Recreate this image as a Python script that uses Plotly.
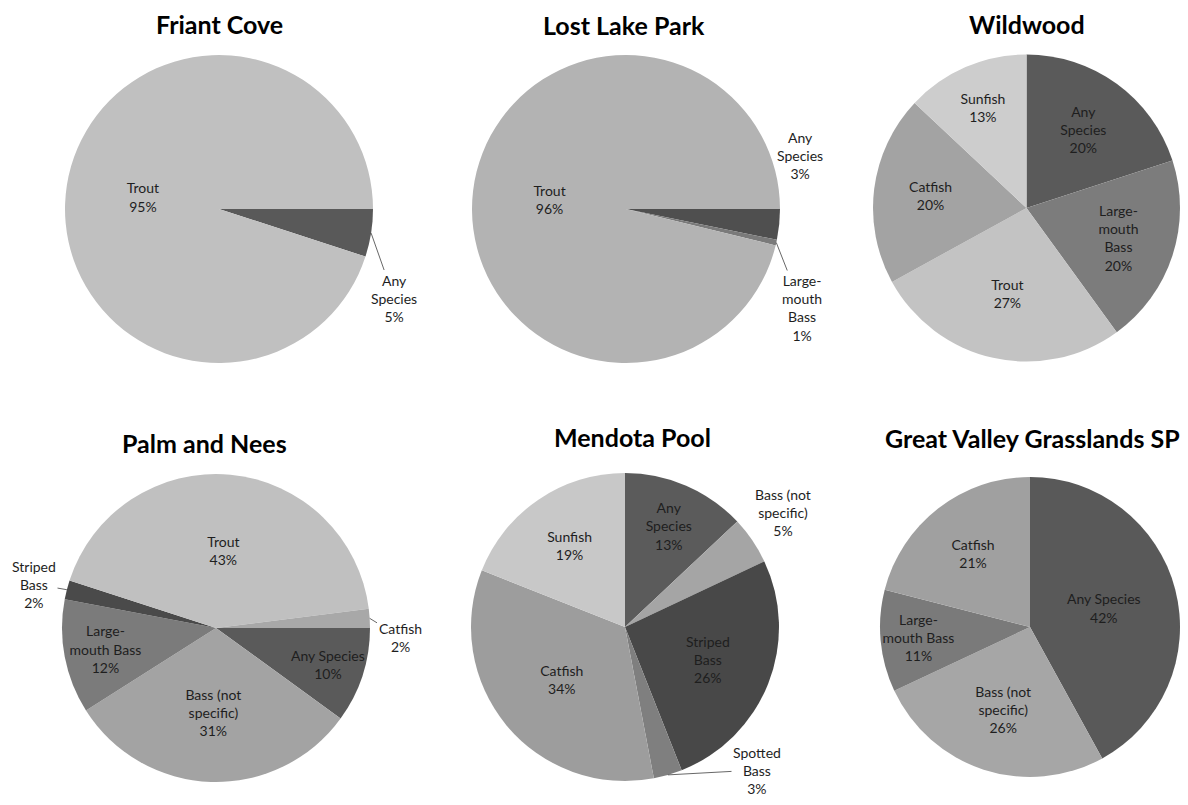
import math
import plotly.graph_objects as go

# ---------------- data ----------------
friant_labels = ["Any<br>Species", "Trout"]
friant_values = [5, 95]

lost_labels = ["Any<br>Species", "Large-<br>mouth<br>Bass", "Trout"]
lost_values = [3.2, 0.6, 96.2]

wild_labels = ["Any<br>Species", "Large-<br>mouth<br>Bass", "Trout", "Catfish", "Sunfish"]
wild_values = [20, 20, 27, 20, 13]

palm_labels = ["Any Species", "Bass (not<br>specific)", "Large-<br>mouth Bass", "Striped<br>Bass", "Trout", "Catfish"]
palm_values = [10, 31, 12, 2, 43, 2]

mendota_labels = ["Any<br>Species", "Bass (not<br>specific)", "Striped<br>Bass", "Spotted<br>Bass", "Catfish", "Sunfish"]
mendota_values = [13, 5, 26, 3, 34, 19]

gv_labels = ["Any Species", "Bass (not<br>specific)", "Large-<br>mouth Bass", "Catfish"]
gv_values = [42, 26, 11, 21]

titles = ["Friant Cove", "Lost Lake Park", "Wildwood",
          "Palm and Nees", "Mendota Pool", "Great Valley Grasslands SP"]

# ---------------- layout helpers ----------------
FW, FH = 1172, 789          # figure size (page has an 8px body margin)
OFF = 8
FONT = "Lato"
TXT = "#1e1e1e"


def px(X):
    return (X - OFF) / FW


def py(Y):
    return 1 - (Y - OFF) / FH


# per pie: colors, rotation (deg, plotly convention), geometry in page px (cx, cy, r),
# title position, and outside-label placements {slice index: (text x, text y, leader)}
pies = [
    dict(labels=friant_labels, values=friant_values,
         colors=["#595959", "#c0c0c0"], rotation=90, geom=(219, 209, 154),
         title=(219, 24), outside={0: (394, 298, True)}),
    dict(labels=lost_labels, values=lost_values,
         colors=["#4f4f4f", "#7a7a7a", "#b3b3b3"], rotation=90, geom=(626, 209, 154),
         title=(624, 25), outside={0: (800, 156, False), 1: (802, 308, True)}),
    dict(labels=wild_labels, values=wild_values,
         colors=["#5a5a5a", "#7c7c7c", "#c3c3c3", "#a3a3a3", "#cdcdcd"], rotation=0,
         geom=(1027, 208, 154), title=(1027, 24), outside={}),
    dict(labels=palm_labels, values=palm_values,
         colors=["#5a5a5a", "#a3a3a3", "#7b7b7b", "#4a4a4a", "#c0c0c0", "#a8a8a8"], rotation=90,
         geom=(216, 628, 154), title=(204, 443),
         outside={3: (34, 584, True), 5: (400, 637, True)}),
    dict(labels=mendota_labels, values=mendota_values,
         colors=["#5b5b5b", "#a5a5a5", "#484848", "#7f7f7f", "#9d9d9d", "#c8c8c8"], rotation=0,
         geom=(625, 627, 154), title=(632, 437),
         outside={1: (783, 512, False), 3: (757, 770, True)}),
    dict(labels=gv_labels, values=gv_values,
         colors=["#595959", "#a6a6a6", "#7a7a7a", "#a0a0a0"], rotation=0,
         geom=(1030, 627, 150), title=(1032, 438), outside={}),
]

fig = go.Figure()
annotations = []
for p in pies:
    cx, cy, r = p["geom"]
    n = len(p["values"])
    pos = ["none" if i in p["outside"] else "inside" for i in range(n)]
    fig.add_trace(go.Pie(
        labels=p["labels"], values=p["values"],
        sort=False, direction="clockwise", rotation=p["rotation"],
        marker=dict(colors=p["colors"], line=dict(width=0)),
        texttemplate="%{label}<br>%{percent:.0%}",
        textposition=pos,
        insidetextorientation="horizontal",
        textfont=dict(family=FONT, size=14, color=TXT),
        insidetextfont=dict(family=FONT, size=14, color=TXT),
        hoverinfo="label+percent",
        showlegend=False,
        domain=dict(x=[max(0, px(cx - r)), min(1, px(cx + r))],
                    y=[max(0, py(cy + r)), min(1, py(cy - r))]),
    ))

    # outside labels with leader lines (text from the data)
    total = sum(p["values"])
    cum = 0.0
    for i, v in enumerate(p["values"]):
        start = cum
        cum += v
        if i not in p["outside"]:
            continue
        tx, ty, leader = p["outside"][i]
        pct = round(100 * v / total)
        text = f"{p['labels'][i]}<br>{pct}%"
        mid = math.radians(90 - p["rotation"] - 360 * (start + v / 2) / total)
        rimx = cx + r * math.cos(mid)
        rimy = cy - r * math.sin(mid)
        if leader:
            annotations.append(dict(
                text=text, x=px(rimx), y=py(rimy), xref="paper", yref="paper",
                ax=tx - rimx, ay=ty - rimy, showarrow=True, arrowhead=0,
                arrowwidth=0.8, arrowcolor="#404040", standoff=0,
                font=dict(family=FONT, size=14, color=TXT), align="center",
            ))
        else:
            annotations.append(dict(
                text=text, x=px(tx), y=py(ty), xref="paper", yref="paper",
                xanchor="center", yanchor="middle", showarrow=False,
                font=dict(family=FONT, size=14, color=TXT), align="center",
            ))

for t, p in zip(titles, pies):
    tx, ty = p["title"]
    annotations.append(dict(
        text="<b>" + t + "</b>", x=px(tx), y=py(ty),
        xref="paper", yref="paper", xanchor="center", yanchor="middle",
        showarrow=False, font=dict(family=FONT, size=25, color="#000000"),
    ))

fig.update_layout(
    width=FW, height=FH,
    margin=dict(l=0, r=0, t=0, b=0),
    paper_bgcolor="white", plot_bgcolor="white",
    annotations=annotations,
    uniformtext=dict(minsize=14, mode="show"),
)

fig.write_html("out.html")
